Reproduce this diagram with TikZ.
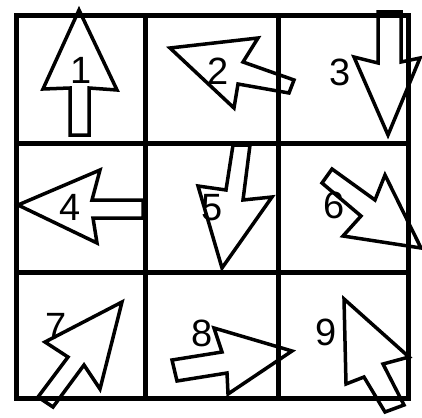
\documentclass[tikz,border=0pt]{standalone}
\usepackage{fontspec}
\setmainfont{Liberation Sans}
\begin{document}
\begin{tikzpicture}[
        x=1pt, y=-1pt,
        every node/.style={font=\fontsize{38}{38}\selectfont, inner sep=0pt},
        grid/.style={line width=5pt},
        blockarrow/.style={line width=3.5pt, line join=miter, miter limit=6},
        num/.style={anchor=center}
    ]
    \useasboundingbox (0,0) rectangle (422,417);

    % Grid
    \draw[grid] (16,16) rectangle (408,398);
    \foreach \x in {145,278}
        \draw[grid] (\x,16) -- (\x,398);
    \foreach \y in {143,272}
        \draw[grid] (16,\y) -- (408,\y);

    % Arrows, row 1
    \draw[blockarrow] (79,10) -- (117,90) -- (89,88) -- (89,135) -- (70,135) -- (70,88) -- (43,89) -- cycle;
    \draw[blockarrow] (170,48) -- (258,38) -- (243,62) -- (294,80) -- (289,93) -- (238,84) -- (234,108) -- cycle;
    \draw[blockarrow] (378,12) -- (401,12) -- (401,62) -- (420,58) -- (388,135) -- (354,57) -- (378,63) -- cycle;

    % Arrows, row 2
    \draw[blockarrow] (18,205) -- (100,170) -- (92,200) -- (143,200) -- (143,218) -- (93,218) -- (97,243) -- cycle;
    \draw[blockarrow] (233,145) -- (250,145) -- (243,200) -- (272,197) -- (222,268) -- (198,186) -- (226,190) -- cycle;
    \draw[blockarrow] (332,169) -- (375,200) -- (385,175) -- (421,248) -- (343,236) -- (361,216) -- (322,183) -- cycle;

    % Arrows, row 3
    \draw[blockarrow] (122,302) -- (45,342) -- (68,357) -- (38,397) -- (53,407) -- (84,365) -- (100,389) -- cycle;
    \draw[blockarrow] (172,360) -- (222,352) -- (214,328) -- (292,351) -- (228,394) -- (227,373) -- (177,381) -- cycle;
    \draw[blockarrow] (344,299) -- (409,357) -- (383,364) -- (404,405) -- (385,412) -- (364,377) -- (346,384) -- cycle;

    % Numbers
    \node[num] (n1) at (81,70) {1};
    \node[num] (n2) at (218,71) {2};
    \node[num] (n3) at (340,72) {3};
    \node[num] (n4) at (70,207) {4};
    \node[num] (n5) at (212,208) {5};
    \node[num] (n6) at (334,205) {6};
    \node[num] (n7) at (56,326) {7};
    \node[num] (n8) at (202,333) {8};
    \node[num] (n9) at (326,332) {9};

\end{tikzpicture}
\end{document}
